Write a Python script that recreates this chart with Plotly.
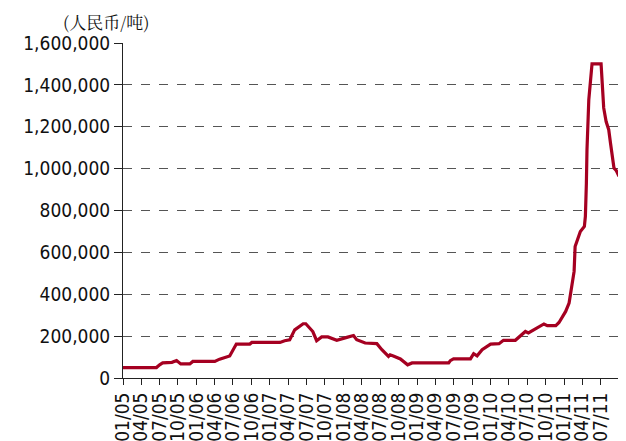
import plotly.graph_objects as go

dates = [
    "2005-01-01", "2005-06-16", "2005-07-02", "2005-07-17", "2005-09-01", "2005-09-24",
    "2005-10-15", "2005-11-29", "2005-12-14", "2006-04-02", "2006-04-26", "2006-05-29",
    "2006-06-15", "2006-07-18", "2006-09-23", "2006-10-03", "2007-02-20", "2007-03-15",
    "2007-04-09", "2007-05-04", "2007-05-29", "2007-06-15", "2007-06-28", "2007-08-02",
    "2007-08-21", "2007-09-15", "2007-10-16", "2007-11-29", "2008-01-18", "2008-02-20",
    "2008-03-07", "2008-04-18", "2008-06-15", "2008-07-10", "2008-08-12", "2008-08-20",
    "2008-09-05", "2008-10-10", "2008-11-15", "2008-12-07", "2009-06-07", "2009-06-15",
    "2009-07-01", "2009-09-23", "2009-10-09", "2009-10-26", "2009-11-20", "2010-01-01",
    "2010-02-12", "2010-03-06", "2010-05-04", "2010-05-29", "2010-06-23", "2010-07-08",
    "2010-07-26", "2010-08-20", "2010-09-23", "2010-10-10", "2010-11-21", "2010-12-07",
    "2010-12-24", "2011-01-09", "2011-01-26", "2011-02-04", "2011-02-12", "2011-02-20",
    "2011-02-25", "2011-03-07", "2011-03-23", "2011-04-12", "2011-04-17", "2011-04-22",
    "2011-04-25", "2011-05-04", "2011-05-12", "2011-05-20", "2011-07-04", "2011-07-12",
    "2011-07-17", "2011-07-29", "2011-08-11", "2011-08-20", "2011-08-28", "2011-09-06",
    "2011-09-18", "2011-10-01",
]
prices = [
    50000, 50000, 63000, 72000, 75000, 83000,
    67000, 67000, 79000, 79000, 90000, 100000,
    105000, 162000, 162000, 170000, 170000, 178000,
    182000, 230000, 250000, 259000, 259000, 222000,
    178000, 196000, 196000, 180000, 194000, 203000,
    183000, 167000, 164000, 135000, 103000, 111000,
    105000, 91000, 63000, 72000, 72000, 83000,
    91000, 91000, 116000, 106000, 135000, 162000,
    164000, 180000, 180000, 199000, 222000, 215000,
    226000, 239000, 258000, 250000, 250000, 265000,
    294000, 318000, 358000, 406000, 470000, 509000,
    628000, 660000, 700000, 724000, 772000, 931000,
    1090000, 1330000, 1440000, 1500000, 1500000, 1390000,
    1290000, 1225000, 1186000, 1120000, 1050000, 1003000,
    990000, 963000,
]

tick_dates = [
    "2005-01-01", "2005-04-01", "2005-07-01", "2005-10-01",
    "2006-01-01", "2006-04-01", "2006-07-01", "2006-10-01",
    "2007-01-01", "2007-04-01", "2007-07-01", "2007-10-01",
    "2008-01-01", "2008-04-01", "2008-07-01", "2008-10-01",
    "2009-01-01", "2009-04-01", "2009-07-01", "2009-10-01",
    "2010-01-01", "2010-04-01", "2010-07-01", "2010-10-01",
    "2011-01-01", "2011-04-01", "2011-07-01",
]
tick_labels = [
    "01/05", "04/05", "07/05", "10/05",
    "01/06", "04/06", "07/06", "10/06",
    "01/07", "04/07", "07/07", "10/07",
    "01/08", "04/08", "07/08", "10/08",
    "01/09", "04/09", "07/09", "10/09",
    "01/10", "04/10", "07/10", "10/10",
    "01/11", "04/11", "07/11",
]
y_ticks = [0, 200000, 400000, 600000, 800000, 1000000, 1200000, 1400000, 1600000]
unit_label = "(人民币/吨)"

FONT = "DejaVu Sans Condensed, Liberation Sans Narrow, sans-serif"

fig = go.Figure()
fig.add_trace(go.Scatter(
    x=dates, y=prices, mode="lines",
    line=dict(color="#A50021", width=3.2),
    showlegend=False,
))

# page has an 8px body margin, so the figure is sized to fill the 626x441 window
fig.update_layout(
    width=618, height=433,
    margin=dict(l=115, r=7, t=35, b=63, autoexpand=False),
    paper_bgcolor="white", plot_bgcolor="white",
    font=dict(family=FONT, size=19, color="#111111"),
    xaxis=dict(
        type="date",
        range=["2005-01-01", "2011-10-01"],
        tickvals=tick_dates, ticktext=tick_labels,
        tickangle=-90,
        ticks="outside", ticklen=6, tickcolor="#222222", tickwidth=1,
        showline=True, linecolor="#222222", linewidth=1,
        showgrid=False, zeroline=False, automargin=False,
        tickfont=dict(family=FONT, size=19, color="#111111"),
    ),
    yaxis=dict(
        range=[0, 1600000],
        tickvals=y_ticks,
        tickformat=",d",
        ticks="outside", ticklen=8, tickcolor="#222222", tickwidth=1,
        showline=True, linecolor="#222222", linewidth=1,
        showgrid=True, gridcolor="#555555", griddash="dash", gridwidth=1.3,
        zeroline=False, automargin=False,
        tickfont=dict(family=FONT, size=19, color="#111111"),
    ),
    annotations=[dict(
        text=unit_label, xref="paper", yref="paper",
        x=-0.122, y=1.0, xanchor="left", yanchor="bottom", yshift=8,
        showarrow=False, borderpad=0,
        font=dict(family="Noto Serif CJK SC, Noto Sans CJK SC, sans-serif", size=17, color="#111111"),
    )],
)

fig.write_html("out.html")
